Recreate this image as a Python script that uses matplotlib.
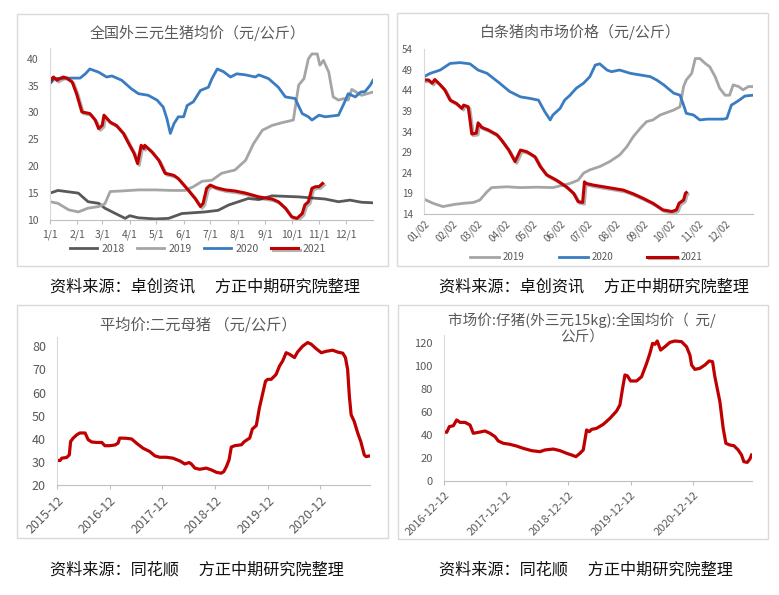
import matplotlib
matplotlib.use("Agg")
import matplotlib.pyplot as plt
import matplotlib.patheffects as pe
from matplotlib.patches import Rectangle

plt.rcParams['font.family'] = ['Noto Sans CJK SC', 'DejaVu Sans']

W, H = 779, 595
TXT = "#595959"
RED = "#C00000"
BLUE = "#3A7CC1"
C2018 = "#595959"
C2019 = "#A5A5A5"

# ---- 全国外三元生猪均价 (x = 当年第几天) ----
d2018 = [0, 9, 32, 43, 55, 62, 74, 85, 90, 100, 119, 134, 149, 175, 190, 202, 213, 224,
         236, 251, 281, 296, 311, 326, 339, 352, 365]
v2018 = [15.0, 15.5, 15.0, 13.4, 13.1, 12.2, 11.2, 10.3, 10.8, 10.4, 10.2, 10.3, 11.2, 11.5,
         11.8, 12.8, 13.4, 14.0, 13.8, 14.5, 14.3, 14.1, 13.9, 13.4, 13.7, 13.3, 13.2]
d2019 = [0, 9, 21, 32, 43, 55, 62, 68, 81, 100, 119, 138, 153, 162, 172, 183, 194, 209, 221,
         230, 240, 251, 262, 275, 281, 287, 292, 296, 302, 305, 309, 315, 320, 326, 332, 337,
         341, 352, 365]
v2019 = [13.4, 13.1, 11.9, 11.5, 12.2, 12.5, 13.0, 15.3, 15.4, 15.6, 15.6, 15.5, 15.5, 16.2,
         17.2, 17.4, 18.7, 19.3, 21.1, 24.2, 26.7, 27.6, 28.1, 28.6, 35.1, 36.3, 40.0, 40.9,
         40.9, 38.8, 39.7, 37.5, 32.9, 32.3, 32.6, 32.3, 34.3, 33.2, 33.8]
d2020 = [0, 4, 17, 34, 40, 45, 55, 64, 70, 81, 92, 100, 111, 121, 128, 132, 136, 140, 145,
         151, 155, 162, 170, 179, 183, 189, 196, 204, 211, 221, 232, 236, 247, 258, 266, 277,
         285, 292, 296, 304, 311, 326, 332, 337, 345, 351, 356, 362, 365]
v2020 = [35.4, 36.3, 36.4, 36.4, 37.2, 38.1, 37.5, 36.6, 36.8, 36.0, 34.4, 33.5, 33.2, 32.3,
         31.0, 28.9, 26.1, 27.9, 29.2, 29.2, 31.3, 32.0, 34.1, 34.7, 36.3, 38.1, 37.6, 36.6,
         37.2, 37.0, 36.6, 37.0, 36.3, 34.7, 32.9, 32.6, 29.8, 29.2, 28.6, 29.5, 29.2, 29.5,
         31.6, 33.5, 32.9, 33.8, 33.9, 35.1, 36.0]
d2021 = [0, 4, 8, 11, 15, 19, 25, 30, 36, 45, 51, 55, 59, 61, 68, 75, 83, 90, 95, 99, 103,
         106, 107, 115, 123, 130, 140, 145, 156, 164, 170, 173, 177, 181, 188, 198, 209, 221,
         236, 251, 258, 266, 273, 279, 285, 288, 292, 296, 300, 304, 308]
v2021 = [36.0, 36.6, 36.0, 36.3, 36.6, 36.4, 35.7, 33.5, 30.1, 29.8, 28.6, 27.0, 27.6, 29.5,
         28.2, 27.6, 26.1, 23.9, 22.4, 20.5, 23.9, 23.3, 23.9, 22.7, 21.1, 18.7, 18.3, 17.7,
         15.6, 14.0, 12.5, 13.1, 15.9, 16.5, 16.0, 15.6, 15.4, 15.0, 14.3, 13.9, 13.4, 12.2,
         10.6, 10.3, 11.2, 12.8, 13.4, 15.9, 16.2, 16.2, 16.8]
tl_ticks = [0, 31, 59, 90, 120, 151, 181, 212, 243, 273, 304, 334]
tl_labels = ["1/1", "2/1", "3/1", "4/1", "5/1", "6/1", "7/1", "8/1", "9/1", "10/1", "11/1", "12/1"]

# ---- 白条猪肉市场价格 ----
m2019 = [1, 11, 22, 34, 45, 56, 63, 71, 76, 93, 108, 126, 144, 163, 172, 178, 185, 196, 207,
         218, 226, 233, 241, 248, 255, 263, 278, 285, 289, 292, 298, 302, 307, 313, 318, 324,
         329, 335, 340, 344, 350, 355, 361, 366]
p2019 = [17.6, 16.6, 15.8, 16.3, 16.6, 16.8, 17.4, 19.4, 20.4, 20.6, 20.4, 20.5, 20.4, 21.4,
         22.2, 23.9, 24.7, 25.5, 26.7, 28.3, 30.3, 32.7, 34.8, 36.4, 36.8, 38.0, 39.2, 40.0,
         44.9, 46.5, 48.1, 51.7, 51.7, 50.5, 49.7, 47.3, 44.5, 42.8, 42.8, 45.3, 44.9, 44.1,
         44.9, 44.9]
m2020 = [1, 8, 19, 30, 41, 52, 61, 71, 85, 96, 108, 119, 128, 135, 141, 144, 152, 157, 163,
         170, 178, 185, 191, 196, 204, 209, 218, 230, 241, 252, 259, 267, 278, 285, 289, 292,
         300, 307, 315, 322, 333, 337, 342, 348, 352, 357, 366]
p2020 = [47.3, 48.1, 48.9, 50.5, 50.7, 50.4, 48.9, 48.1, 45.7, 43.7, 42.4, 42.0, 41.6, 38.8,
         36.8, 38.0, 39.6, 41.6, 42.8, 44.5, 45.7, 47.3, 50.1, 50.4, 48.9, 48.5, 48.9, 48.1,
         47.7, 47.3, 46.5, 45.3, 43.3, 42.8, 40.4, 38.4, 38.0, 36.8, 37.0, 37.0, 37.0, 37.2,
         40.4, 41.2, 41.8, 42.6, 42.8]
m2021 = [1, 6, 10, 13, 19, 24, 30, 37, 43, 45, 50, 52, 54, 59, 61, 65, 72, 82, 87, 95, 99,
         102, 108, 115, 124, 130, 137, 148, 159, 167, 172, 177, 179, 181, 189, 200, 211, 222,
         233, 244, 255, 266, 276, 281, 284, 289, 291, 292]
p2021 = [46.5, 46.5, 45.7, 46.6, 45.3, 44.1, 41.6, 40.8, 39.6, 40.4, 40.0, 36.8, 33.4, 33.6,
         36.1, 35.0, 34.4, 33.2, 31.9, 29.5, 27.9, 26.7, 29.5, 29.1, 27.9, 25.5, 23.5, 22.2,
         20.6, 19.0, 17.0, 16.8, 21.8, 21.4, 21.0, 20.6, 20.2, 19.8, 18.9, 17.8, 16.6, 15.0,
         14.6, 15.0, 16.6, 17.4, 19.0, 19.2]
tr_ticks = [1, 32, 60, 91, 121, 152, 182, 213, 244, 274, 305, 335]
tr_labels = ["01/02", "02/02", "03/02", "04/02", "05/02", "06/02", "07/02", "08/02",
             "09/02", "10/02", "11/02", "12/02"]

# ---- 平均价:二元母猪 (x = 自2015-12起的月数) ----
sow_m = [0, 0.7, 1.1, 2.2, 2.8, 3.1, 3.7, 4.5, 5.2, 6.4, 7.1, 7.9, 9.0, 10.2, 10.9, 12.0,
         13.2, 13.9, 14.3, 15.8, 17.0, 18.1, 19.6, 21.1, 22.3, 23.4, 24.9, 26.4, 28.0, 29.1,
         30.1, 30.6, 31.4, 32.5, 34.0, 35.2, 36.3, 37.4, 38.0, 38.6, 39.2, 39.7, 40.5, 42.0,
         42.7, 43.9, 44.5, 45.4, 46.1, 46.9, 47.5, 48.0, 48.8, 49.9, 50.7, 51.4, 52.2, 53.0,
         54.1, 54.8, 56.0, 57.1, 57.9, 59.0, 60.2, 61.3, 62.8, 63.9, 65.1, 65.7, 66.2, 66.6,
         67.0, 67.7, 68.5, 69.2, 70.0, 70.4, 71.3]
sow_v = [30.6, 30.6, 31.6, 31.9, 33.0, 38.8, 40.3, 41.7, 42.5, 42.5, 39.6, 38.6, 38.4, 38.4,
         37.0, 37.0, 37.3, 38.1, 40.3, 40.2, 39.9, 38.1, 35.9, 34.5, 32.6, 32.0, 32.0, 31.6,
         30.4, 29.1, 29.7, 29.1, 27.3, 26.8, 27.3, 26.5, 25.5, 25.1, 25.8, 28.0, 30.9, 36.4,
         37.0, 37.4, 38.8, 40.3, 44.2, 45.7, 53.3, 59.9, 64.9, 65.7, 65.7, 67.8, 71.5, 73.6,
         77.2, 76.5, 75.1, 77.5, 80.1, 81.6, 80.9, 79.0, 77.2, 77.8, 78.3, 77.5, 77.0, 75.1,
         70.0, 58.4, 50.4, 47.5, 42.5, 38.8, 33.0, 32.3, 32.6]
bl_ticks = [0, 12, 24, 36, 48, 60]
bl_labels = ["2015-12", "2016-12", "2017-12", "2018-12", "2019-12", "2020-12"]

# ---- 市场价:仔猪 (x = 自2016-12-12起的年数) ----
pig_t = [0, 0.043, 0.086, 0.150, 0.203, 0.257, 0.337, 0.418, 0.471, 0.552, 0.659, 0.739,
         0.819, 0.873, 0.953, 1.060, 1.167, 1.274, 1.408, 1.542, 1.622, 1.756, 1.863, 1.971,
         2.051, 2.120, 2.185, 2.238, 2.292, 2.335, 2.372, 2.452, 2.560, 2.667, 2.774, 2.827,
         2.870, 2.908, 2.945, 2.999, 3.095, 3.175, 3.256, 3.309, 3.352, 3.390, 3.427, 3.481,
         3.550, 3.631, 3.711, 3.818, 3.898, 3.952, 3.979, 4.032, 4.112, 4.193, 4.262, 4.316,
         4.353, 4.434, 4.487, 4.530, 4.594, 4.659, 4.728, 4.782, 4.819, 4.873, 4.916, 4.942]
pig_v = [42.9, 42.3, 47.3, 48.1, 53.1, 51.0, 51.0, 48.7, 41.5, 42.3, 43.5, 41.5, 38.6, 34.8,
         32.8, 31.9, 30.4, 28.4, 26.4, 25.5, 27.0, 27.8, 26.4, 24.1, 22.6, 21.2, 24.1, 27.0,
         44.4, 42.9, 44.9, 45.8, 49.3, 54.5, 60.9, 66.1, 80.6, 92.2, 91.6, 87.0, 87.0, 90.7,
         102.3, 111.0, 119.7, 118.9, 121.8, 113.9, 116.8, 120.6, 121.8, 121.2, 116.8, 109.6,
         100.9, 97.1, 98.0, 100.9, 104.4, 103.8, 90.7, 69.0, 45.8, 32.8, 31.3, 30.7, 27.0,
         22.6, 16.8, 16.2, 19.1, 22.6]
br_ticks = [0, 1, 2, 3, 4]
br_labels = ["2016-12-12", "2017-12-12", "2018-12-12", "2019-12-12", "2020-12-12"]


def fbox(l, t, r, b):
    return [l / W, 1 - b / H, (r - l) / W, (b - t) / H]


def style(ax, size):
    for s in ("top", "right"):
        ax.spines[s].set_visible(False)
    ax.spines["left"].set_color("#D9D9D9")
    ax.spines["bottom"].set_color("#BFBFBF")
    ax.tick_params(axis="y", colors=TXT, labelsize=size, length=0, pad=8)
    ax.tick_params(axis="x", colors="#BFBFBF", labelcolor=TXT, labelsize=size,
                   length=3, width=0.8)
    ax.margins(x=0)


shadow = [pe.SimpleLineShadow(offset=(1.2, -1.2), alpha=0.3), pe.Normal()]

fig = plt.figure(figsize=(W / 100, H / 100), dpi=100)

# 面板边框
for l, t, r, b in [(17, 14, 388, 266), (397, 13, 768, 266),
                   (17, 305, 388, 538), (398, 305, 768, 539)]:
    fig.add_artist(Rectangle((l / W, 1 - b / H), (r - l) / W, (b - t) / H,
                             transform=fig.transFigure, fill=False,
                             ec="#D9D9D9", lw=1))

# 左上
ax1 = fig.add_axes(fbox(50, 48, 373, 220))
ax1.plot(d2018, v2018, color=C2018, lw=2, label="2018")
ax1.plot(d2019, v2019, color=C2019, lw=2, label="2019")
ax1.plot(d2020, v2020, color=BLUE, lw=2, label="2020")
ax1.plot(d2021, v2021, color=RED, lw=2.2, label="2021", path_effects=shadow)
ax1.set_xlim(0, 365)
ax1.set_ylim(10, 42)
ax1.set_yticks([10, 15, 20, 25, 30, 35, 40])
ax1.set_xticks(tl_ticks, tl_labels)
style(ax1, 7.5)
ax1.legend(loc="center", bbox_to_anchor=(198 / W, 1 - 249 / H),
           bbox_transform=fig.transFigure, ncol=4, frameon=False, fontsize=7.5,
           labelcolor=TXT, handlelength=2.6, columnspacing=1.2, handletextpad=0.4)
fig.text(198 / W, 1 - 33 / H, "全国外三元生猪均价（元/公斤）", ha="center", va="center",
         fontsize=10.8, color=TXT)

# 右上
ax2 = fig.add_axes(fbox(424, 49, 753, 214))
ax2.plot(m2019, p2019, color=C2019, lw=2, label="2019")
ax2.plot(m2020, p2020, color=BLUE, lw=2, label="2020")
ax2.plot(m2021, p2021, color=RED, lw=2.2, label="2021", path_effects=shadow)
ax2.set_xlim(1, 366)
ax2.set_ylim(14, 54)
ax2.set_yticks([14, 19, 24, 29, 34, 39, 44, 49, 54])
ax2.set_xticks(tr_ticks, tr_labels, rotation=45, ha="right", va="top",
               rotation_mode="anchor")
style(ax2, 7)
ax2.tick_params(axis="x", length=0)
ax2.legend(loc="center", bbox_to_anchor=(586 / W, 1 - 257 / H),
           bbox_transform=fig.transFigure, ncol=3, frameon=False, fontsize=7,
           labelcolor=TXT, handlelength=3, columnspacing=3.5, handletextpad=0.4)
fig.text(580 / W, 1 - 32 / H, "白条猪肉市场价格（元/公斤）", ha="center", va="center",
         fontsize=10.8, color=TXT)

# 左下
ax3 = fig.add_axes(fbox(57, 337, 370, 485))
ax3.plot(sow_m, sow_v, color=RED, lw=2.3)
ax3.set_xlim(0, 71.3)
ax3.set_ylim(20, 84)
ax3.set_yticks([20, 30, 40, 50, 60, 70, 80])
ax3.set_xticks(bl_ticks, bl_labels, rotation=45, ha="right", va="top",
               rotation_mode="anchor")
style(ax3, 9)
fig.text(198 / W, 1 - 325 / H, "平均价:二元母猪 （元/公斤）", ha="center", va="center",
         fontsize=11, color=TXT)

# 右下
ax4 = fig.add_axes(fbox(444, 335, 752, 481))
ax4.plot(pig_t, pig_v, color=RED, lw=2.3)
ax4.set_xlim(0, 4.95)
ax4.set_ylim(0, 127)
ax4.set_yticks([0, 20, 40, 60, 80, 100, 120])
ax4.set_xticks(br_ticks, br_labels, rotation=45, ha="right", va="top",
               rotation_mode="anchor")
style(ax4, 8)
fig.text(582 / W, 1 - 328 / H, "市场价:仔猪(外三元15kg):全国均价（  元/\n公斤）",
         ha="center", va="center", fontsize=10.5, color=TXT, linespacing=1.15)

# 资料来源
src1 = "资料来源：卓创资讯\u3000 方正中期研究院整理"
src2 = "资料来源：同花顺\u3000 方正中期研究院整理"
for x, y, s in [(50, 287, src1), (439, 287, src1), (50, 570, src2), (439, 570, src2)]:
    fig.text(x / W, 1 - y / H, s, ha="left", va="center", fontsize=11.6, color="#111111")

fig.savefig("out.png", dpi=100)
